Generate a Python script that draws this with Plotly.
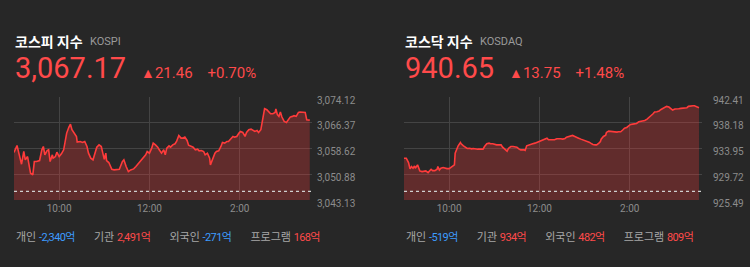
import pandas as pd
import plotly.graph_objects as go

# ---------------- data ----------------
kospi_minutes = [0, 4, 7, 10, 13, 15, 18, 20, 22, 25,
                 27, 30, 34, 37, 39, 41, 44, 46, 48, 51,
                 52, 55, 57, 60, 63, 66, 68, 70, 73, 75,
                 77, 80, 83, 84, 88, 91, 94, 97, 99, 102,
                 105, 107, 110, 113, 116, 118, 120, 122, 123, 126,
                 130, 133, 137, 140, 144, 146, 149, 152, 155, 159,
                 162, 165, 168, 171, 175, 177, 180, 183, 185, 188,
                 191, 193, 196, 199, 201, 203, 206, 208, 211, 214,
                 216, 219, 222, 224, 227, 230, 232, 236, 238, 241,
                 244, 246, 249, 252, 254, 257, 260, 261, 264, 267,
                 269, 272, 275, 277, 280, 283, 285, 288, 291, 293,
                 296, 299, 301, 304, 307, 309, 312, 315, 317, 320,
                 323, 325, 328, 331, 333, 336, 339, 341, 344, 347,
                 348, 350, 352, 354, 356, 359, 362, 364, 367, 370,
                 372, 375, 378, 380, 383, 386, 387, 389, 393]
kospi_values = [3057.42, 3059.53, 3056.72, 3053.90, 3057.72, 3055.21, 3056.21, 3054.00, 3051.18, 3050.68,
                3054.70, 3054.70, 3055.01, 3058.23, 3059.23, 3056.72, 3058.02, 3058.23, 3054.70, 3056.72,
                3055.71, 3056.21, 3057.52, 3056.21, 3057.02, 3058.23, 3060.24, 3063.26, 3065.07, 3065.97,
                3064.26, 3063.26, 3062.25, 3060.54, 3060.74, 3060.44, 3060.74, 3059.23, 3057.22, 3055.71,
                3055.21, 3056.72, 3059.03, 3059.73, 3059.23, 3057.22, 3055.41, 3057.22, 3055.01, 3054.40,
                3052.39, 3052.19, 3052.19, 3052.39, 3054.70, 3055.21, 3053.20, 3051.69, 3052.19, 3052.49,
                3053.20, 3054.00, 3055.01, 3055.71, 3056.72, 3057.72, 3057.22, 3058.73, 3060.24, 3059.73,
                3059.03, 3058.23, 3057.22, 3058.23, 3056.72, 3058.73, 3059.43, 3059.03, 3059.73, 3060.04,
                3060.74, 3062.55, 3061.75, 3061.75, 3062.05, 3061.04, 3059.63, 3059.23, 3059.03, 3058.23,
                3058.43, 3057.92, 3058.02, 3057.72, 3056.72, 3057.22, 3055.71, 3053.70, 3055.71, 3057.22,
                3057.72, 3057.92, 3059.23, 3060.44, 3060.24, 3060.74, 3060.74, 3061.44, 3062.25, 3062.05,
                3062.25, 3063.26, 3063.76, 3063.46, 3062.25, 3063.46, 3064.26, 3064.46, 3064.26, 3063.76,
                3064.06, 3063.46, 3064.26, 3068.29, 3070.60, 3070.30, 3069.69, 3069.09, 3069.09, 3069.49,
                3070.50, 3068.79, 3068.29, 3069.59, 3068.08, 3066.78, 3066.47, 3067.08, 3068.08, 3068.29,
                3068.49, 3068.29, 3069.49, 3069.59, 3069.59, 3069.59, 3069.49, 3067.28, 3067.17]

kosdaq_minutes = [0, 3, 6, 8, 10, 12, 14, 15, 18, 20,
                  21, 24, 27, 29, 32, 34, 36, 38, 41, 44,
                  45, 47, 49, 52, 54, 57, 60, 62, 64, 67,
                  68, 70, 72, 75, 76, 79, 82, 84, 87, 90,
                  92, 95, 98, 101, 105, 107, 110, 113, 115, 118,
                  121, 123, 126, 129, 131, 134, 137, 139, 142, 145,
                  147, 150, 153, 155, 159, 161, 163, 166, 168, 171,
                  174, 176, 179, 182, 184, 187, 190, 192, 195, 198,
                  200, 203, 206, 208, 211, 214, 216, 219, 222, 224,
                  227, 230, 232, 235, 238, 240, 243, 246, 248, 251,
                  254, 256, 259, 261, 262, 265, 268, 269, 272, 275,
                  277, 280, 283, 285, 288, 291, 293, 296, 299, 301,
                  304, 307, 309, 312, 315, 317, 320, 323, 325, 328,
                  331, 333, 336, 339, 341, 344, 346, 349, 352, 354,
                  357, 360, 362, 365, 368, 370, 373, 376, 378, 381,
                  384, 386, 389, 392]
kosdaq_values = [932.36, 932.36, 931.64, 930.60, 930.98, 930.71, 931.09, 930.71, 931.26, 930.54,
                 930.27, 930.16, 930.21, 930.27, 929.99, 930.21, 930.54, 930.32, 930.32, 930.54,
                 930.98, 930.43, 930.71, 930.82, 930.71, 930.65, 930.65, 930.82, 931.09, 931.26,
                 933.18, 934.00, 934.39, 934.94, 934.72, 934.39, 934.17, 933.95, 934.00, 933.89,
                 933.95, 933.84, 933.84, 933.84, 933.84, 934.28, 934.72, 934.83, 934.72, 934.72,
                 934.55, 934.55, 934.55, 934.55, 934.17, 933.84, 933.51, 934.00, 934.28, 934.28,
                 934.28, 934.17, 933.84, 933.73, 933.73, 933.62, 934.39, 934.55, 934.55, 934.72,
                 934.83, 934.94, 935.10, 935.27, 935.38, 935.60, 935.65, 935.38, 935.38, 935.27,
                 935.38, 935.54, 935.60, 935.54, 935.49, 935.60, 935.82, 935.93, 936.09, 936.09,
                 935.93, 935.82, 935.65, 935.49, 935.38, 935.27, 935.16, 934.99, 934.83, 934.61,
                 934.55, 934.55, 934.83, 935.10, 935.49, 935.93, 936.15, 936.59, 936.81, 936.75,
                 936.70, 936.70, 936.64, 936.70, 936.70, 937.03, 937.30, 937.41, 937.74, 937.90,
                 937.96, 938.07, 938.07, 938.34, 938.40, 938.51, 938.56, 938.78, 939.06, 939.33,
                 939.66, 939.94, 939.99, 940.10, 940.32, 940.54, 940.65, 940.87, 940.76, 940.60,
                 940.27, 940.43, 940.49, 940.49, 940.54, 940.54, 940.60, 940.65, 940.87, 940.98,
                 940.98, 940.98, 940.76, 940.65]

index_names = ["코스피 지수", "코스닥 지수"]
index_codes = ["KOSPI", "KOSDAQ"]
index_close = [3067.17, 940.65]
index_change = [21.46, 13.75]
index_pct = [0.70, 1.48]

kospi_ticks = [3043.13, 3050.88, 3058.62, 3066.37, 3074.12]
kosdaq_ticks = [925.49, 929.72, 933.95, 938.18, 942.41]
time_ticks = ["10:00", "12:00", "14:00"]
session_start = "09:00"
session_end = "15:36"

investor_labels = ["개인", "기관", "외국인", "프로그램"]
kospi_flows = [-2340, 2491, -271, 168]
kosdaq_flows = [-519, 934, 482, 809]

# ---------------- styling ----------------
W, H = 750, 267
BG = "#272727"
LINE = "#ff3b3b"
FILL = "rgba(255,59,59,0.27)"
GRID = "#444444"
TICK = "#8c8c8c"
RED = "#ff4a4a"
BLUE = "#3d9cff"
KR = "Noto Sans CJK KR"
NUM = "Roboto"

day = "2021-06-01 "


def to_time(minutes):
    return pd.Timestamp(day + session_start) + pd.to_timedelta(minutes, unit="m")


panels = [
    dict(minutes=kospi_minutes, values=kospi_values, ticks=kospi_ticks,
         x0=14, x1=312, standoff=4, flows=kospi_flows),
    dict(minutes=kosdaq_minutes, values=kosdaq_values, ticks=kosdaq_ticks,
         x0=404, x1=702, standoff=10, flows=kosdaq_flows),
]

plot_top, plot_bottom = 97, 200

fig = go.Figure()
annotations = []
shapes = []

for i, p in enumerate(panels):
    xa = "x" if i == 0 else "x2"
    ya = "y" if i == 0 else "y2"
    fig.add_trace(go.Scatter(
        x=to_time(p["minutes"]), y=p["values"], mode="lines",
        line=dict(color=LINE, width=1.6), fill="tozeroy", fillcolor=FILL,
        xaxis=xa, yaxis=ya, hoverinfo="skip", showlegend=False,
    ))
    dom_x = [p["x0"] / W, p["x1"] / W]
    dom_y = [1 - plot_bottom / H, 1 - plot_top / H]
    xkey = "xaxis" if i == 0 else "xaxis2"
    ykey = "yaxis" if i == 0 else "yaxis2"
    fig.update_layout(**{
        xkey: dict(
            domain=dom_x, anchor=ya, type="date", automargin=False,
            range=[pd.Timestamp(day + session_start), pd.Timestamp(day + session_end)],
            tickmode="array", tickvals=[pd.Timestamp(day + t) for t in time_ticks],
            tickformat="%-I:%M", showgrid=True, gridcolor=GRID, gridwidth=1,
            zeroline=False, showline=False, ticks="",
            tickfont=dict(family=NUM, size=10, color=TICK), ticklabelstandoff=1,
            fixedrange=True,
        ),
        ykey: dict(
            domain=dom_y, anchor=xa, side="right", automargin=False,
            range=[p["ticks"][0], p["ticks"][-1]],
            tickmode="array", tickvals=p["ticks"],
            ticktext=[f"{v:,.2f}" for v in p["ticks"]],
            showgrid=True, gridcolor=GRID, gridwidth=1, zeroline=False,
            showline=False, ticks="", ticklabelstandoff=p["standoff"],
            ticklabelshift=3,
            tickfont=dict(family=NUM, size=10, color=TICK), fixedrange=True,
        ),
    })
    # previous close dotted baseline
    prev_close = index_close[i] - index_change[i]
    shapes.append(dict(
        type="line", xref=f"{xa} domain", yref=ya, x0=0, x1=1,
        y0=prev_close, y1=prev_close,
        line=dict(color="#d0d0d0", width=1.2, dash="dot"), layer="above",
    ))

    px0 = p["x0"]
    # title row
    annotations.append(dict(
        x=(px0 - 1) / W, y=1 - 41 / H, xref="paper", yref="paper",
        xanchor="left", yanchor="middle", showarrow=False,
        text=f"<b>{index_names[i]}</b>",
        font=dict(family=KR, size=14, color="#ffffff"),
    ))
    annotations.append(dict(
        x=(px0 + 74) / W, y=1 - 42 / H, xref="paper", yref="paper",
        xanchor="left", yanchor="middle", showarrow=False,
        text=index_codes[i],
        font=dict(family=NUM, size=11, color="#9a9a9a"),
    ))
    # price row
    annotations.append(dict(
        x=(px0 - 1) / W, y=1 - 68 / H, xref="paper", yref="paper",
        xanchor="left", yanchor="middle", showarrow=False,
        text=(f"<span style='font-size:29px'>{index_close[i]:,.2f}</span>"
              f"&nbsp;&nbsp;&nbsp;&nbsp;"
              f"<span style='font-size:14px'>▲</span>{index_change[i]:.2f}"
              f"&nbsp;&nbsp;&nbsp;&nbsp;+{index_pct[i]:.2f}%"),
        font=dict(family=NUM, size=15, color=RED),
    ))
    # investor flows row
    parts = []
    for lab, val in zip(investor_labels, p["flows"]):
        col = BLUE if val < 0 else RED
        parts.append(
            f"<span style='color:#a8a8a8'>{lab}</span>&nbsp;"
            f"<span style='color:{col};letter-spacing:-0.6px'>{val:,}억</span>"
        )
    annotations.append(dict(
        x=px0 / W, y=1 - 237 / H, xref="paper", yref="paper",
        xanchor="left", yanchor="middle", showarrow=False,
        text=("&nbsp;" * 7).join(parts),
        font=dict(family=f"{NUM}, {KR}", size=11, color="#a8a8a8"),
    ))

fig.update_layout(
    template="none",
    width=W, height=H, margin=dict(l=0, r=0, t=0, b=0, autoexpand=False),
    paper_bgcolor=BG, plot_bgcolor=BG,
    annotations=annotations, shapes=shapes, showlegend=False,
)

fig.write_html("out.html", config={"displayModeBar": False})
